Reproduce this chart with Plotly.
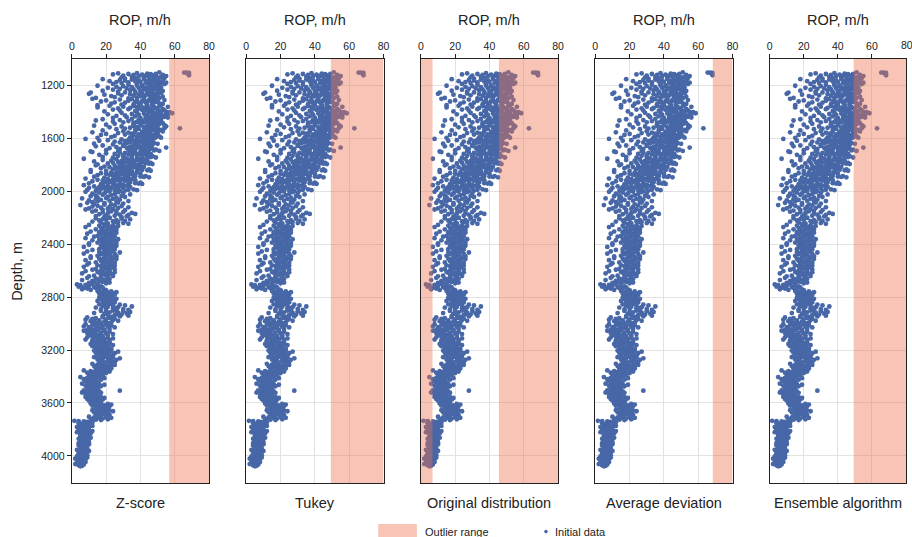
import plotly.graph_objects as go

# ---------------- data ----------------
methods = ["Z-score", "Tukey", "Original distribution", "Average deviation", "Ensemble algorithm"]
# outlier ranges of ROP (m/h) flagged by each method
outlier_ranges = [
    [(56.8, 80)],
    [(49.3, 80)],
    [(0, 6.8), (45.5, 80)],
    [(68.5, 80)],
    [(49.3, 80)],
]

# depth bands (m); each band's ROP readings (m/h), first pass and second pass
band_start_m = list(range(1100, 4100, 50))
rop_rows = [
    [51, 65.5, 67, 68.3, 38, 27, 44, 49, 33, 46, 24, 41, 53, 36, 68.3, 47, 30, 43, 55, 39, 48, 35],
    [42, 18, 50, 35, 46, 28, 53, 39, 31, 48, 44, 22, 37, 51, 40, 26, 47, 33, 55, 43, 29, 49],
    [38, 15, 45, 30, 50, 41, 26, 47, 35, 52, 43, 21, 39, 48, 32, 44, 28, 49, 36, 42, 24, 46],
    [44, 31, 11, 47, 37, 52, 27, 41, 10, 49, 34, 45, 19, 39, 50, 29, 43, 36, 48, 23, 40, 46],
    [12, 42, 35, 48, 28, 45, 54, 38, 20, 46, 33, 41, 50, 17, 44, 37, 49, 25, 43, 31, 47, 39],
    [40, 47, 22, 36, 51, 44, 30, 56, 38, 48, 15, 42, 34, 49, 27, 45, 39, 53, 33, 46, 24, 41],
    [46, 57, 38, 52, 29, 48, 58.5, 42, 55, 35, 50, 21, 44, 56, 39, 47, 31, 53, 43, 26, 49, 37],
    [43, 35, 49, 18, 45, 39, 52, 28, 47, 14, 41, 50, 33, 46, 24, 44, 38, 48, 30, 42, 36, 51],
    [40, 48, 13, 44, 36, 55, 29, 46, 38, 50, 22, 42, 34, 47, 54, 63, 31, 45, 39, 26, 49, 43],
    [37, 45, 12, 41, 33, 49, 27, 43, 50, 35, 20, 46, 39, 31, 44, 17, 48, 36, 42, 25, 40, 47],
    [35, 42, 8, 38, 29, 46, 33, 44, 21, 40, 36, 16, 43, 31, 47, 25, 39, 45, 34, 28, 41, 37],
    [36, 43, 18, 39, 30, 46, 14, 41, 34, 45, 26, 38, 55, 32, 44, 22, 40, 35, 47, 28, 42, 37],
    [34, 40, 12, 37, 28, 44, 31, 42, 20, 36, 46, 25, 39, 33, 43, 16, 38, 30, 41, 35, 27, 45],
    [32, 39, 7, 35, 26, 42, 30, 38, 18, 34, 44, 23, 37, 29, 40, 13, 33, 36, 27, 41, 31, 24],
    [30, 37, 14, 33, 25, 40, 28, 35, 19, 32, 42, 22, 36, 27, 38, 31, 17, 34, 29, 26, 39, 24],
    [28, 35, 11, 31, 23, 38, 26, 33, 17, 30, 40, 20, 34, 25, 29, 36, 22, 32, 15, 27, 24, 37],
    [26, 32, 8, 29, 21, 35, 24, 30, 15, 27, 37, 18, 31, 23, 28, 12, 25, 33, 20, 22, 34, 19],
    [24, 29, 7, 26, 18, 32, 21, 28, 13, 25, 34, 16, 27, 20, 23, 10, 30, 19, 22, 15, 26, 17],
    [22, 8, 27, 16, 30, 19, 12, 25, 34, 18, 23, 14],
    [20, 6, 24, 14, 28, 17, 10, 22, 33, 15, 26, 12],
    [19, 5, 25, 15, 29, 12, 22, 33, 17, 27, 10, 21],
    [23, 12, 30, 18, 35, 21, 26, 37, 16, 28, 33, 20],
    [22, 14, 29, 18, 34, 20, 26, 16, 31, 24, 12, 27],
    [20, 10, 24, 16, 27, 19, 22, 8, 25, 17, 21, 23],
    [19, 11, 23, 16, 26, 18, 21, 9, 24, 17, 20, 22],
    [20, 8, 24, 16, 27, 18, 22, 12, 25, 17, 19, 23],
    [20, 10, 24, 17, 26, 19, 22, 7, 25, 18, 21, 23],
    [19, 9, 23, 16, 28, 18, 21, 7, 25, 17, 20, 22],
    [20, 11, 24, 16, 26, 18, 22, 8, 23, 17, 19, 21],
    [19, 9, 23, 15, 25, 17, 21, 7, 24, 18, 20, 22],
    [18, 8, 22, 15, 25, 16, 20, 6, 23, 17, 19, 21],
    [17, 9, 21, 14, 22, 15, 19, 6, 20, 12, 18, 16],
    [12, 3, 8, 5, 15, 10, 17, 4, 13, 18, 7, 14],
    [20, 15, 23, 18, 26, 17, 21, 24, 16, 22, 19, 25],
    [20, 16, 24, 18, 26, 17, 22, 25, 19, 21, 15, 23],
    [22, 16, 28, 19, 31, 24, 18, 35, 21, 27, 14, 25],
    [24, 17, 30, 20, 34, 22, 27, 13, 32, 19, 26, 29],
    [18, 9, 22, 14, 25, 12, 20, 8, 24, 16, 27, 11],
    [16, 8, 20, 12, 23, 14, 18, 7, 21, 10, 25, 15],
    [15, 7, 19, 11, 22, 13, 17, 9, 20, 12, 24, 14],
    [17, 9, 21, 13, 24, 15, 19, 8, 22, 12, 18, 16],
    [18, 11, 22, 14, 24, 16, 20, 12, 21, 15, 19, 17],
    [19, 13, 23, 16, 27, 18, 21, 14, 25, 17, 20, 22],
    [20, 13, 24, 16, 28, 18, 22, 15, 26, 17, 21, 23],
    [18, 12, 22, 15, 25, 17, 20, 13, 23, 16, 19, 21],
    [15, 7, 19, 11, 22, 13, 17, 9, 20, 12, 16, 14],
    [12, 5, 16, 9, 19, 11, 14, 7, 17, 10, 13, 8],
    [12, 6, 16, 9, 19, 11, 14, 8, 17, 10, 15, 13],
    [11, 7, 28, 9, 16, 12, 14, 6, 17, 10, 13, 8],
    [13, 8, 17, 11, 19, 12, 15, 9, 18, 14, 16, 10],
    [17, 11, 21, 14, 23, 16, 19, 12, 22, 15, 18, 20],
    [18, 12, 22, 15, 24, 16, 20, 13, 21, 17, 19, 14],
    [16, 10, 20, 13, 23, 15, 18, 12, 21, 14, 17, 11, 1.5, 4, 7, 9, 12, 8],
    [8, 4, 10, 6, 11, 7, 9, 5, 12, 6, 8, 3],
    [7, 4, 10, 6, 12, 5, 9, 3, 8, 6, 11, 7],
    [7, 5, 9, 6, 11, 5, 8, 4, 10, 6, 7, 8],
    [6, 4, 8, 5, 10, 6, 7, 4, 9, 5, 7, 6],
    [6, 3, 8, 5, 10, 4, 7, 5, 9, 6, 7, 4],
    [5, 3, 7, 4, 9, 5, 6, 2, 8, 4, 6, 5],
    [5, 3, 6, 2, 7, 4],
]
rop_rows_extra = [
    [45, 52, 29, 50, 42, 54, 37, 48, 31, 50],
    [52, 45, 24, 54, 38, 49, 33, 46, 50, 41],
    [51, 34, 47, 18, 53, 40, 45, 27, 50, 37],
    [53, 42, 25, 50, 38, 46, 14, 51, 33, 47],
    [51, 40, 23, 53, 36, 47, 29, 52, 44, 15],
    [50, 43, 54, 28, 47, 37, 52, 19, 45, 55],
    [51, 54, 45, 32, 50, 56, 40, 24, 52, 47],
    [53, 40, 47, 25, 51, 36, 49, 20, 45, 54],
    [52, 37, 48, 18, 51, 43, 46, 30, 53, 41],
    [51, 38, 46, 23, 49, 34, 52, 15, 44, 48],
    [48, 32, 45, 13, 50, 38, 43, 24, 47, 30],
    [49, 33, 45, 20, 48, 36, 51, 27, 43, 11],
    [47, 30, 44, 18, 46, 35, 49, 24, 41, 38],
    [46, 34, 43, 21, 45, 28, 47, 15, 39, 36],
    [45, 29, 41, 11, 44, 33, 46, 20, 38, 35],
    [43, 27, 40, 13, 42, 31, 45, 19, 36, 33],
    [40, 24, 37, 10, 39, 28, 41, 17, 33, 30],
    [36, 22, 33, 9, 38, 25, 31, 14, 28, 20],
    [29, 11, 21, 31, 15, 26],
    [27, 9, 19, 30, 13, 23],
    [24, 8, 18, 31, 14, 26],
    [25, 14, 32, 19, 29, 22],
    [25, 17, 30, 21, 33, 19],
    [22, 14, 26, 18, 24, 20],
    [21, 15, 25, 13, 23, 18],
    [21, 15, 26, 10, 23, 18],
    [22, 16, 25, 12, 20, 24],
    [21, 15, 26, 11, 23, 19],
    [21, 14, 25, 10, 22, 18],
    [20, 14, 25, 12, 22, 17],
    [20, 13, 24, 10, 21, 17],
    [18, 13, 22, 10, 20, 15],
    [9, 16, 6, 19, 11, 20],
    [21, 17, 24, 19, 22, 18],
    [21, 18, 25, 20, 23, 19],
    [24, 20, 30, 17, 33, 26],
    [25, 21, 33, 18, 28, 23],
    [19, 13, 23, 15, 21, 17],
    [17, 11, 22, 13, 19, 9],
    [16, 10, 21, 14, 18, 12],
    [18, 12, 22, 14, 20, 16],
    [19, 14, 23, 17, 21, 15],
    [21, 15, 24, 18, 22, 19],
    [21, 16, 25, 19, 23, 18],
    [19, 14, 23, 17, 21, 16],
    [16, 10, 18, 13, 15, 11],
    [13, 8, 15, 11, 14, 10],
    [13, 9, 15, 11, 14, 12],
    [12, 9, 15, 11, 13, 10],
    [14, 11, 17, 12, 15, 13],
    [18, 14, 21, 16, 19, 17],
    [19, 15, 22, 17, 20, 16],
    [],
    [7, 10, 5, 9, 6, 8],
    [8, 5, 9, 7, 10, 6],
    [8, 6, 9, 5, 7, 10],
    [7, 5, 8, 6, 9, 5],
    [7, 5, 8, 6, 9, 4],
    [6, 4, 7, 5, 8, 3],
    [4, 6, 5],
]
data_bottom_m = 4080

x_ticks = [0, 20, 40, 60, 80]
y_ticks = [1200, 1600, 2000, 2400, 2800, 3200, 3600, 4000]

# flatten into depth / ROP samples
depth, rop = [], []
for start, row, extra in zip(band_start_m, rop_rows, rop_rows_extra):
    vals = row + extra
    width = min(50, data_bottom_m - start)
    n = len(vals)
    for i, v in enumerate(vals):
        depth.append(start + (i + 0.5) * width / n)
        rop.append(v)

# ---------------- layout helpers ----------------
W, H = 912, 537
def px(x):
    return x / W
def py(y):
    return 1 - y / H

FONT = "Liberation Sans, Arial, Helvetica, sans-serif"
POINT = "#4767A7"
SHADE = "rgba(235,115,80,0.42)"
panel_left = [69.5, 245.7, 422.0, 598.2, 774.3]
panel_w = 138.6
top_px, bot_px = 59, 483

fig = go.Figure()
layout = dict(
    width=W, height=H,
    margin=dict(l=0, r=0, t=0, b=0),
    paper_bgcolor="white", plot_bgcolor="white",
    font=dict(family=FONT, color="#222", size=10),
    showlegend=False,
)
shapes, annotations = [], []

for k, name in enumerate(methods):
    ax = "" if k == 0 else str(k + 1)
    fig.add_trace(go.Scatter(
        x=rop, y=depth, mode="markers",
        marker=dict(size=4.8, color=POINT, line=dict(width=0)),
        xaxis="x" + ax, yaxis="y" + ax, hoverinfo="skip",
    ))
    x0 = panel_left[k]
    x1 = min(x0 + panel_w, W)
    last = (k == len(methods) - 1)
    layout["xaxis" + ax] = dict(
        domain=[px(x0), px(x1)], anchor="y" + ax, side="top",
        range=[0, 80], tickvals=x_ticks[:-1] if last else x_ticks,
        ticks="outside", ticklen=4,
        tickcolor="#222", showline=True, mirror=True, linecolor="#222", linewidth=1.3,
        showgrid=True, gridcolor="#e2e2e2", gridwidth=1, zeroline=False,
        tickfont=dict(size=10.5, color="#222"),
    )
    layout["yaxis" + ax] = dict(
        domain=[py(bot_px), py(top_px)], anchor="x" + ax,
        range=[4205, 1000], tickvals=y_ticks,
        ticks="outside" if k == 0 else "", ticklen=4, tickcolor="#222",
        showticklabels=(k == 0),
        showline=True, mirror=True, linecolor="#222", linewidth=1.3,
        showgrid=True, gridcolor="#e2e2e2", gridwidth=1, zeroline=False,
        tickfont=dict(size=10.5, color="#222"),
    )
    if last:
        # rightmost tick label sits on the page edge (clipped like the original)
        annotations.append(dict(text=str(x_ticks[-1]), x=x_ticks[-1], y=py(45),
                                xref="x" + ax, yref="paper", showarrow=False,
                                xanchor="left", yanchor="middle", xshift=-7,
                                font=dict(size=10.5, color="#222")))
    for (a, b) in outlier_ranges[k]:
        shapes.append(dict(
            type="rect", xref="x" + ax, yref="y" + ax, layer="above",
            x0=a, x1=b, y0=4205, y1=1000, fillcolor=SHADE, line=dict(width=0),
        ))
    cx = px(x0 + panel_w / 2)
    annotations.append(dict(text="ROP, m/h", x=cx, y=py(20), xref="paper", yref="paper",
                            showarrow=False, font=dict(size=14.5, color="#222"),
                            xanchor="center", yanchor="middle"))
    annotations.append(dict(text=name, x=cx, y=py(503), xref="paper", yref="paper",
                            showarrow=False, font=dict(size=14.5, color="#222"),
                            xanchor="center", yanchor="middle"))

annotations.append(dict(text="Depth, m", x=px(14), y=py(271), xref="paper", yref="paper",
                        showarrow=False, textangle=-90, font=dict(size=14.5, color="#222"),
                        xanchor="center", yanchor="middle"))

# legend
shapes.append(dict(type="rect", xref="paper", yref="paper", x0=px(379), x1=px(418),
                   y0=py(540), y1=py(524), fillcolor=SHADE, line=dict(width=0)))
annotations.append(dict(text="Outlier range", x=px(424), y=py(531.5), xref="paper", yref="paper",
                        showarrow=False, xanchor="left", yanchor="middle",
                        font=dict(size=11, color="#222")))
shapes.append(dict(type="circle", xref="paper", yref="paper", x0=px(546.6), x1=px(550.2),
                   y0=py(533.4), y1=py(529.8), fillcolor=POINT, line=dict(width=0)))
annotations.append(dict(text="Initial data", x=px(555), y=py(531.5), xref="paper", yref="paper",
                        showarrow=False, xanchor="left", yanchor="middle",
                        font=dict(size=11, color="#222")))

layout["shapes"] = shapes
layout["annotations"] = annotations
fig.update_layout(**layout)
fig.write_html("out.html")
